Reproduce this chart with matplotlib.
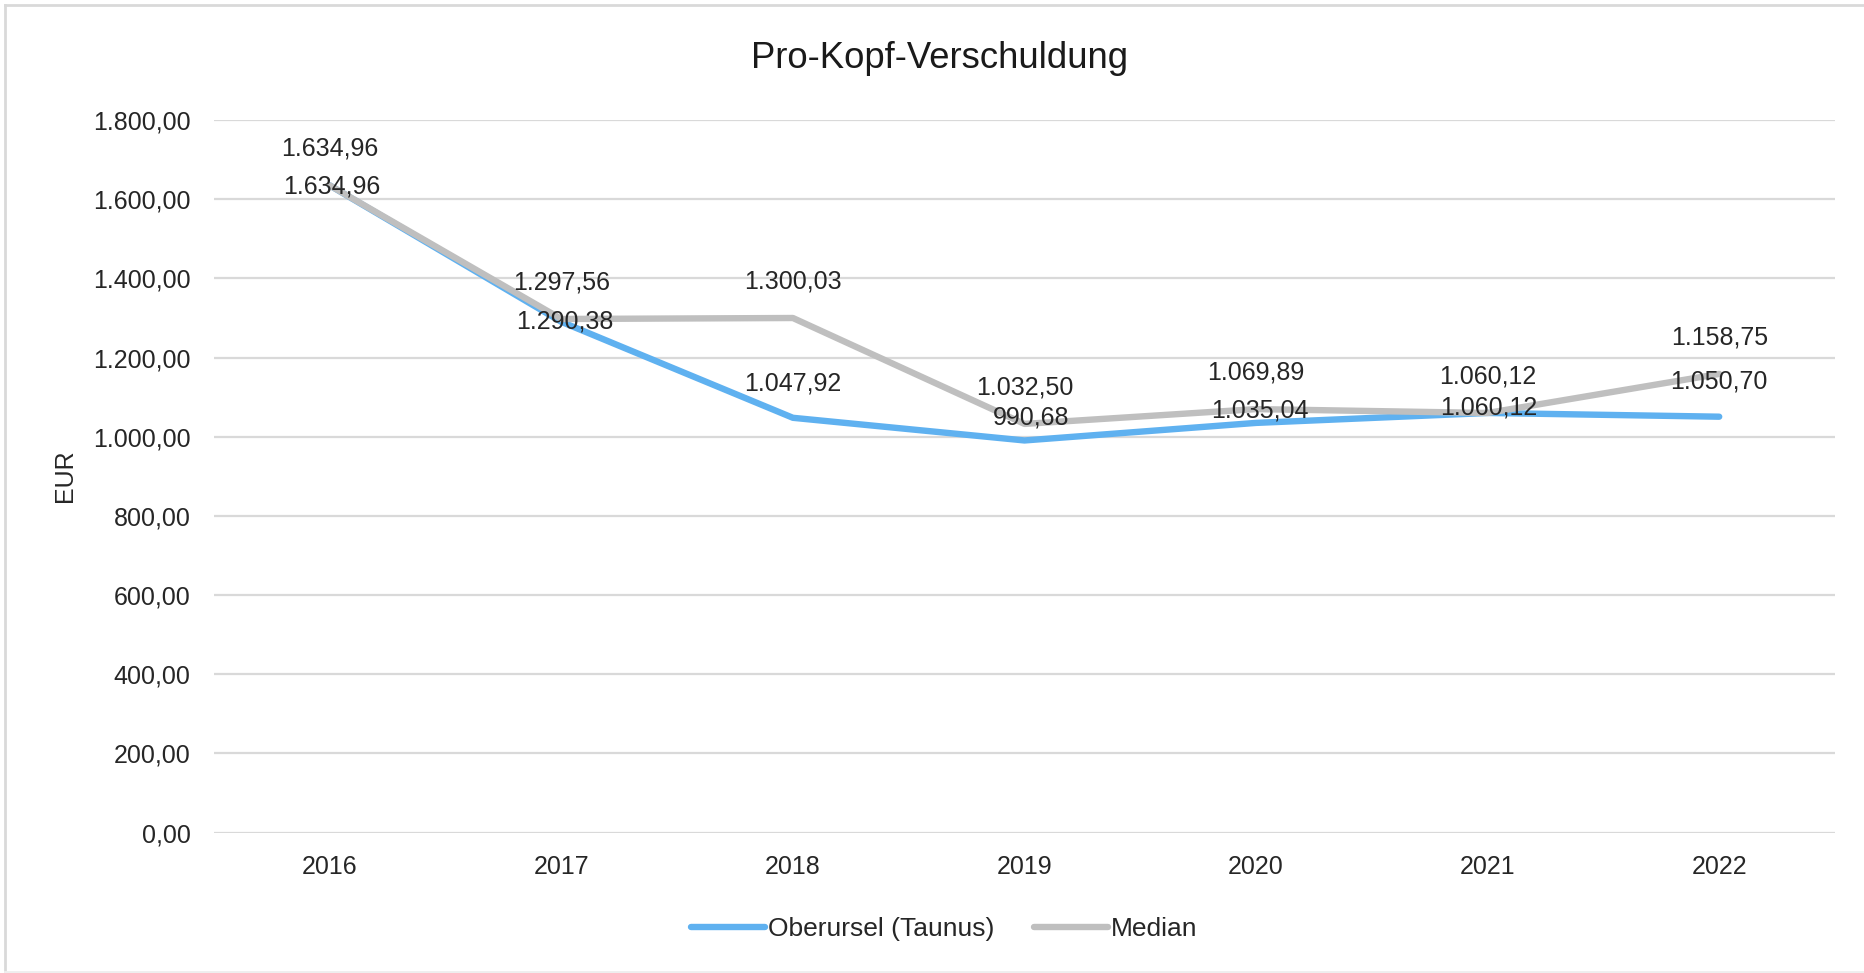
import matplotlib
matplotlib.use("Agg")
import matplotlib.pyplot as plt
from matplotlib.lines import Line2D

plt.rcParams['font.family'] = ['Liberation Sans', 'DejaVu Sans']

years = ["2016", "2017", "2018", "2019", "2020", "2021", "2022"]
oberursel = [1634.96, 1290.38, 1047.92, 990.68, 1035.04, 1060.12, 1050.70]
median = [1634.96, 1297.56, 1300.03, 1032.50, 1069.89, 1060.12, 1158.75]
yticks = [0, 200, 400, 600, 800, 1000, 1200, 1400, 1600, 1800]

# label offsets in pixels (dx, dy)
ob_offsets = [(1.5, -1.5), (3, 0.5), (0, 34.5), (7, 22.5), (4, 12.5), (1, 5.5), (0, 35.5)]
md_offsets = [(0, 36.5)] * 7


def de(v):
    s = f"{v:,.2f}"
    return s.replace(",", "X").replace(".", ",").replace("X", ".")


W, H = 1865, 973
fig = plt.figure(figsize=(W / 100, H / 100), dpi=100)
ax = fig.add_axes([214 / W, 1 - 832.6 / H, (1835 - 214) / W, (832.6 - 120.1) / H])

blue = '#5FB1F0'
gray = '#BFBFBF'
x = list(range(len(years)))
ax.plot(x, oberursel, color=blue, lw=4.6, solid_capstyle='round', solid_joinstyle='round',
        label='Oberursel (Taunus)', zorder=3)
ax.plot(x, median, color=gray, lw=4.6, solid_capstyle='round', solid_joinstyle='round',
        label='Median', zorder=4)

fs = 18
for i, v in enumerate(oberursel):
    ax.annotate(de(v), (i, v), xytext=ob_offsets[i], textcoords='offset pixels',
                ha='center', va='center', fontsize=fs, color='#262626', zorder=6)
for i, v in enumerate(median):
    ax.annotate(de(v), (i, v), xytext=md_offsets[i], textcoords='offset pixels',
                ha='center', va='center', fontsize=fs, color='#262626', zorder=6)

ax.set_xlim(-0.5, len(years) - 0.5)
ax.set_ylim(0, 1800)
ax.set_yticks(yticks)
ax.set_yticklabels([de(t) for t in yticks])
ax.set_xticks(x)
ax.set_xticklabels(years)
ax.tick_params(axis='both', length=0, labelsize=fs, labelcolor='#262626')
ax.tick_params(axis='y', pad=17)
ax.tick_params(axis='x', pad=16)
ax.grid(axis='y', color='#D9D9D9', lw=1.6)
ax.set_axisbelow(True)
for s in ax.spines.values():
    s.set_visible(False)

fig.text(65 / W, 1 - 476 / H, "EUR", rotation=90, ha='center', va='center',
         fontsize=fs, color='#262626')
fig.text(940 / W, 1 - 58.5 / H, "Pro-Kopf-Verschuldung", ha='center', va='center',
         fontsize=26.3, color='#1a1a1a')

leg = fig.legend(loc='center', bbox_to_anchor=(944 / W, 1 - 929 / H), ncol=2, frameon=False,
                 fontsize=19, handlelength=2.8, handletextpad=0.12, columnspacing=1.5)
for t in leg.get_texts():
    t.set_color('#262626')

bc = '#D9D9D9'
fig.add_artist(Line2D([5 / W, 1], [1 - 5 / H, 1 - 5 / H], transform=fig.transFigure, color=bc, lw=2))
fig.add_artist(Line2D([5 / W, 5 / W], [1 - 5 / H, 0], transform=fig.transFigure, color=bc, lw=2))
fig.add_artist(Line2D([5 / W, 1], [1.5 / H, 1.5 / H], transform=fig.transFigure, color='#EEEEEE', lw=2))

fig.savefig("out.png", dpi=100, facecolor='white')
